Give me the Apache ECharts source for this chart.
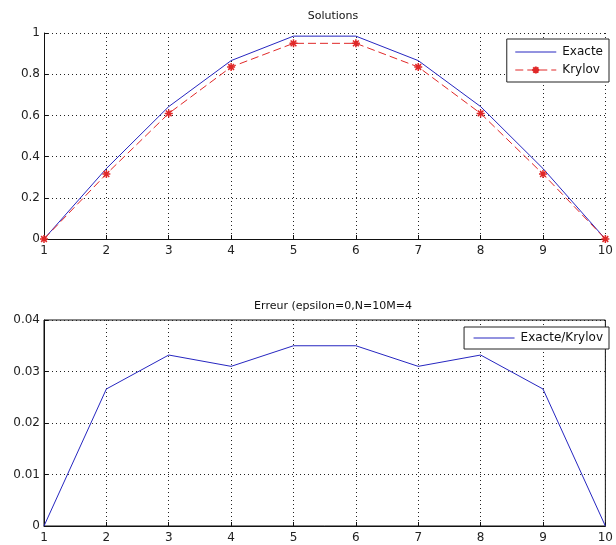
<!DOCTYPE html>
<html>
<head>
<meta charset="utf-8">
<script src="https://cdn.jsdelivr.net/npm/echarts@6/dist/echarts.min.js"></script>
<style>
  html, body { margin: 0; padding: 0; background: #fff; }
  #chart { width: 616px; height: 545px; }
</style>
</head>
<body>
<div id="chart"></div>
<script>
// Node indices along the x axis
const nodes = [1, 2, 3, 4, 5, 6, 7, 8, 9, 10];

// Exact solution at the nodes
const exacte = [0, 0.3420, 0.6428, 0.8660, 0.9848, 0.9848, 0.8660, 0.6428, 0.3420, 0];

// Krylov approximation at the nodes
const krylov = [0, 0.3154, 0.6096, 0.8350, 0.9498, 0.9498, 0.8350, 0.6096, 0.3154, 0];

// Error between the two solutions
const erreur = [0, 0.0266, 0.0332, 0.0310, 0.0350, 0.0350, 0.0310, 0.0332, 0.0266, 0];

// Tick labels
const xTicks = ['1', '2', '3', '4', '5', '6', '7', '8', '9', '10'];
const yTicksTop = ['0', '0.2', '0.4', '0.6', '0.8', '1'];
const yTicksBottom = ['0', '0.01', '0.02', '0.03', '0.04'];

const FONT = '"DejaVu Sans", "Liberation Sans", sans-serif';
const BLUE = '#2626c0';
const RED = '#e02828';
const ASTERISK = 'path://M0,-5L0,5M-5,0L5,0M-3.6,-3.6L3.6,3.6M-3.6,3.6L3.6,-3.6';

const pairs = (ys) => nodes.map((x, i) => [x, ys[i]]);

const dotted = { color: '#222', width: 1, type: [1, 3] };
const labelStyle = { color: '#222', fontSize: 12, fontFamily: FONT };

function xAxis(gridIndex) {
  return {
    type: 'value', gridIndex, min: 1, max: 10, interval: 1,
    axisLine: { show: true, onZero: false, lineStyle: { color: '#111', width: 1 } },
    axisTick: { show: true, inside: true, length: 4, lineStyle: { color: '#111' } },
    axisLabel: Object.assign({ margin: 6, formatter: (v) => xTicks[v - 1] }, labelStyle),
    splitLine: { show: true, lineStyle: dotted }
  };
}

function yAxis(gridIndex, max, interval, ticks) {
  return {
    type: 'value', gridIndex, min: 0, max, interval,
    axisLine: { show: true, lineStyle: { color: '#111', width: 1 } },
    axisTick: { show: true, inside: true, length: 4, lineStyle: { color: '#111' } },
    axisLabel: Object.assign({
      margin: 4,
      formatter: (v) => ticks[Math.round(v / interval)]
    }, labelStyle),
    splitLine: { show: true, lineStyle: dotted }
  };
}

// Legend entries: plain line for the exact curves, dashed line with asterisk for Krylov
const hiddenMarker = { opacity: 0 };

const chart = echarts.init(document.getElementById('chart'), null, { renderer: 'canvas' });

chart.setOption({
  backgroundColor: '#fff',
  animation: false,
  title: [
    { text: 'Solutions', left: 328, top: 6, textAlign: 'center',
      textStyle: { fontSize: 11, fontWeight: 'normal', color: '#111', fontFamily: FONT } },
    { text: 'Erreur (epsilon=0,N=10M=4', left: 328, top: 296, textAlign: 'center',
      textStyle: { fontSize: 11, fontWeight: 'normal', color: '#111', fontFamily: FONT } }
  ],
  grid: [
    { left: 44, right: 3, top: 33, height: 206, show: false },
    { left: 44, right: 3, top: 320, height: 206, show: true,
      borderColor: '#111', borderWidth: 1, backgroundColor: 'transparent' }
  ],
  xAxis: [xAxis(0), xAxis(1)],
  yAxis: [
    yAxis(0, 1, 0.2, yTicksTop),
    yAxis(1, 0.04, 0.01, yTicksBottom)
  ],
  legend: [
    {
      data: [
        { name: 'Exacte', itemStyle: hiddenMarker },
        { name: 'Krylov' }
      ],
      orient: 'vertical', right: 7, top: 39,
      backgroundColor: '#fff', borderColor: '#222', borderWidth: 1,
      padding: [7, 6, 6, 8], itemGap: 6, itemWidth: 41, itemHeight: 9,
      lineStyle: { width: 1 },
      selectedMode: false,
      textStyle: { fontSize: 12, color: '#111', fontFamily: FONT, padding: [0, 0, 0, 1] }
    },
    {
      data: [{ name: 'Exacte/Krylov', itemStyle: hiddenMarker }],
      orient: 'vertical', right: 7, top: 327,
      backgroundColor: '#fff', borderColor: '#222', borderWidth: 1,
      padding: [5, 6, 5, 9], itemWidth: 41, itemHeight: 14,
      lineStyle: { width: 1 },
      selectedMode: false,
      textStyle: { fontSize: 12, color: '#111', fontFamily: FONT, padding: [0, 0, 0, 1] }
    }
  ],
  series: [
    {
      name: 'Exacte', type: 'line', xAxisIndex: 0, yAxisIndex: 0,
      data: pairs(exacte), symbol: 'none', z: 3,
      lineStyle: { color: BLUE, width: 1 }, itemStyle: { color: BLUE }
    },
    {
      name: 'Krylov', type: 'line', xAxisIndex: 0, yAxisIndex: 0,
      data: pairs(krylov), symbol: ASTERISK, symbolSize: 8, showAllSymbol: true, z: 4,
      lineStyle: { color: RED, width: 1, type: [8, 4] },
      itemStyle: { color: RED, borderColor: RED, borderWidth: 1.5 }
    },
    {
      name: 'Exacte/Krylov', type: 'line', xAxisIndex: 1, yAxisIndex: 1,
      data: pairs(erreur), symbol: 'none',
      lineStyle: { color: BLUE, width: 1 }, itemStyle: { color: BLUE }
    }
  ]
});
</script>
</body>
</html>
